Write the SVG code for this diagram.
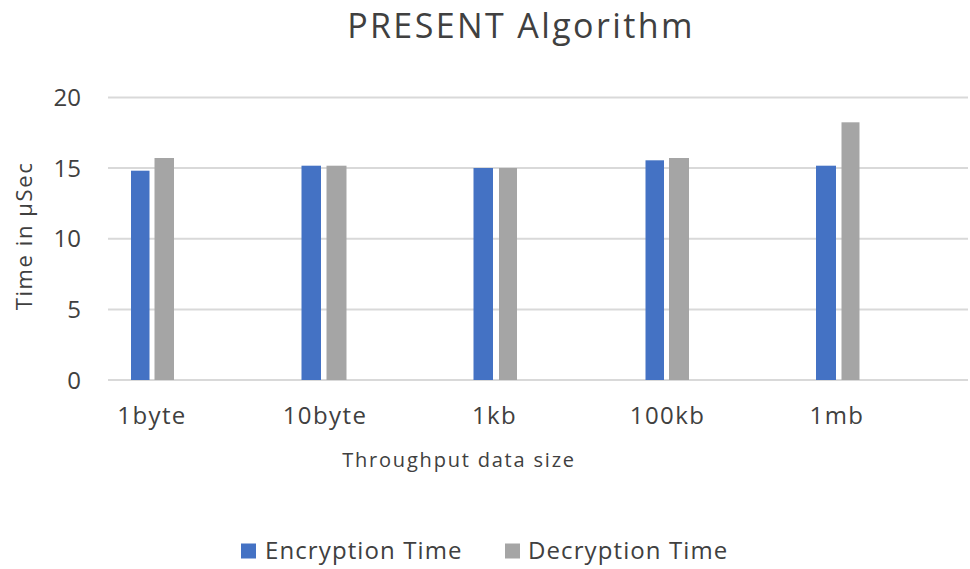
<svg xmlns="http://www.w3.org/2000/svg" width="970" height="569" viewBox="0 0 970 569">
  <style>
    text { font-family: "Open Sans", "Liberation Sans", sans-serif; fill: #404040; }
    .title { font-size: 34px; letter-spacing: 2.4px; }
    .tick { font-size: 24px; text-anchor: end; }
    .cat { font-size: 24px; text-anchor: middle; letter-spacing: 1.4px; }
    .axis { font-size: 20px; text-anchor: middle; letter-spacing: 1.8px; }
    .ytitle { font-size: 22px; text-anchor: middle; letter-spacing: 1.6px; }
    .legend { font-size: 24px; letter-spacing: 1.1px; }
    .grid line { stroke: #d9d9d9; stroke-width: 2; }
    .enc { fill: #4472c4; }
    .dec { fill: #a5a5a5; }
  </style>
  <rect width="970" height="569" fill="#ffffff"/>

  <!-- chart title -->
  <text class="title" x="521" y="38" text-anchor="middle">PRESENT Algorithm</text>

  <!-- horizontal gridlines: 0 to 20 step 5 -->
  <g class="grid">
    <line x1="108" y1="97.5" x2="968" y2="97.5"/>
    <line x1="108" y1="168.1" x2="968" y2="168.1"/>
    <line x1="108" y1="238.8" x2="968" y2="238.8"/>
    <line x1="108" y1="309.4" x2="968" y2="309.4"/>
    <line x1="108" y1="380" x2="968" y2="380"/>
  </g>

  <!-- value axis labels -->
  <g id="y-axis">
    <text class="tick" x="81" y="106">20</text>
    <text class="tick" x="81" y="176.6">15</text>
    <text class="tick" x="81" y="247.3">10</text>
    <text class="tick" x="81" y="317.9">5</text>
    <text class="tick" x="81" y="388.5">0</text>
    <text class="ytitle" transform="translate(32 236) rotate(-90)">Time in µSec</text>
  </g>

  <!-- bars per data size -->
  <g id="series-1byte">
    <rect class="enc" x="131" y="170.7" width="18.5" height="209.3"/>
    <rect class="dec" x="154.5" y="158" width="19.5" height="222"/>
  </g>
  <g id="series-10byte">
    <rect class="enc" x="301.5" y="165.7" width="19.5" height="214.3"/>
    <rect class="dec" x="326.5" y="165.7" width="20" height="214.3"/>
  </g>
  <g id="series-1kb">
    <rect class="enc" x="473.5" y="168" width="19.5" height="212"/>
    <rect class="dec" x="499" y="168" width="18" height="212"/>
  </g>
  <g id="series-100kb">
    <rect class="enc" x="645.5" y="160.3" width="18.5" height="219.7"/>
    <rect class="dec" x="669" y="158" width="20" height="222"/>
  </g>
  <g id="series-1mb">
    <rect class="enc" x="816" y="165.7" width="20" height="214.3"/>
    <rect class="dec" x="841.5" y="122.3" width="18" height="257.7"/>
  </g>

  <!-- category axis labels -->
  <g id="x-axis">
    <text class="cat" x="152" y="424">1byte</text>
    <text class="cat" x="325" y="424">10byte</text>
    <text class="cat" x="494.5" y="424">1kb</text>
    <text class="cat" x="667.5" y="424">100kb</text>
    <text class="cat" x="837" y="424">1mb</text>
    <text class="axis" x="459" y="467">Throughput data size</text>
  </g>

  <!-- legend -->
  <g id="legend">
    <rect class="enc" x="241" y="543.5" width="15" height="15"/>
    <text class="legend" x="265" y="559">Encryption Time</text>
    <rect class="dec" x="505" y="543.5" width="15" height="15"/>
    <text class="legend" x="528" y="559">Decryption Time</text>
  </g>
</svg>
